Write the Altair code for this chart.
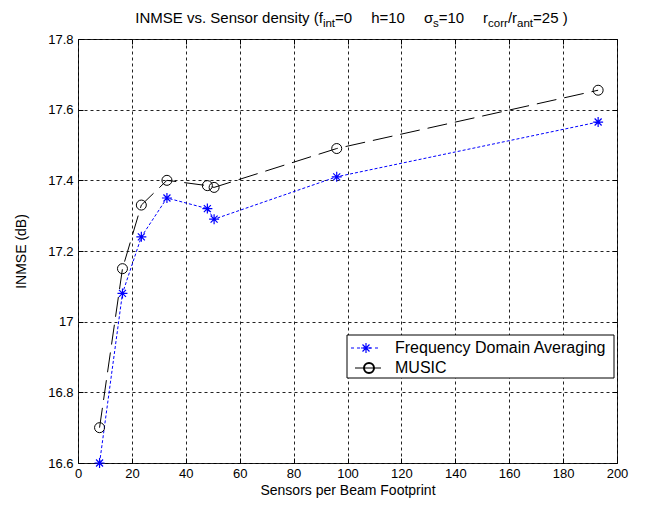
import altair as alt
import pandas as pd

# ---------------- data ----------------
series_names = ["Frequency Domain Averaging", "MUSIC"]
sensors_fda = [8, 16.5, 23.5, 33, 48, 50.5, 96, 193]
inmse_fda = [16.60, 17.08, 17.24, 17.35, 17.32, 17.29, 17.41, 17.565]
sensors_music = [8, 16.5, 23.5, 33, 48, 50.5, 96, 193]
inmse_music = [16.70, 17.15, 17.33, 17.40, 17.385, 17.38, 17.49, 17.655]
x_ticks = [0, 20, 40, 60, 80, 100, 120, 140, 160, 180, 200]
y_ticks = [16.6, 16.8, 17.0, 17.2, 17.4, 17.6, 17.8]
x_title = "Sensors per Beam Footprint"
y_title = "INMSE (dB)"
# title pieces: (text, is_subscript)
title_parts = [("INMSE vs. Sensor density (f", False), ("int", True), ("=0", False),
               ("   ", None), ("h=10", False), ("   ", None), ("σ", False), ("s", True),
               ("=10", False), ("   ", None), ("r", False), ("corr", True), ("/r", False),
               ("ant", True), ("=25 )", False)]

W, H = 539, 424
FONT = "Liberation Sans"
BLUE = "#0000ff"

df_fda = pd.DataFrame({"sensors": sensors_fda, "inmse": inmse_fda})
df_music = pd.DataFrame({"sensors": sensors_music, "inmse": inmse_music})
one = pd.DataFrame({"a": [0]})

xscale = alt.Scale(domain=[0, 200], nice=False, zero=False)
yscale = alt.Scale(domain=[16.6, 17.8], nice=False, zero=False)

x_axis = alt.Axis(values=x_ticks, grid=True, gridDash=[3, 3], gridColor="#222222",
                  gridOpacity=1, ticks=False, tickSize=0, domain=False,
                  labelFont=FONT, labelFontSize=13, labelColor="black", labelPadding=4,
                  labelFlush=False, title=x_title, titleFont=FONT, titleFontSize=14,
                  titleFontWeight="normal", titleColor="black", titleX=W / 2, titleY=31,
                  titleBaseline="alphabetic", titleAnchor="middle")
y_axis = alt.Axis(values=y_ticks, grid=True, gridDash=[3, 3], gridColor="#222222",
                  gridOpacity=1, ticks=False, tickSize=0, domain=False, format="~g",
                  labelFont=FONT, labelFontSize=13, labelColor="black", labelPadding=5,
                  labelFlush=False, title=y_title, titleFont=FONT, titleFontSize=14,
                  titleFontWeight="normal", titleColor="black", titleX=-53, titleY=H / 2,
                  titleAngle=-90, titleBaseline="alphabetic", titleAnchor="middle")

star = "M-1,0L1,0M0,-1L0,1M-0.7,-0.7L0.7,0.7M-0.7,0.7L0.7,-0.7"

enc_fda = dict(x=alt.X("sensors:Q", scale=xscale, axis=x_axis),
               y=alt.Y("inmse:Q", scale=yscale, axis=y_axis))
enc_music = dict(x=alt.X("sensors:Q", scale=xscale, axis=x_axis),
                 y=alt.Y("inmse:Q", scale=yscale, axis=y_axis))

fda_line = alt.Chart(df_fda).mark_line(color=BLUE, strokeWidth=1, strokeDash=[3, 2]).encode(**enc_fda)
fda_pts = alt.Chart(df_fda).mark_point(shape=star, size=100, filled=False, color=BLUE,
                                       strokeWidth=1.2, opacity=1).encode(**enc_fda)
music_line = alt.Chart(df_music).mark_line(color="black", strokeWidth=1, strokeDash=[20, 8]).encode(**enc_music)
music_pts = alt.Chart(df_music).mark_point(shape="circle", size=100, filled=False, color="black",
                                           strokeWidth=1, opacity=1).encode(**enc_music)
main = alt.layer(fda_line, music_line, fda_pts, music_pts)

# inner tick marks (MATLAB style) drawn as axes pushed inside the box
def tick_axis(orient):
    return alt.Axis(orient=orient, offset=-5, ticks=True, tickSize=5, tickColor="black",
                    labels=False, domain=False, grid=False, title=None,
                    values=(x_ticks if orient in ("bottom", "top") else y_ticks))

ticks_bl = alt.Chart(df_fda).mark_point(opacity=0).encode(
    x=alt.X("sensors:Q", scale=xscale, axis=tick_axis("bottom")),
    y=alt.Y("inmse:Q", scale=yscale, axis=tick_axis("left")))
ticks_tr = alt.Chart(df_fda).mark_point(opacity=0).encode(
    x=alt.X("sensors:Q", scale=xscale, axis=tick_axis("top")),
    y=alt.Y("inmse:Q", scale=yscale, axis=tick_axis("right")))

# ---------------- title built from pieces (for subscripts) ----------------
aw = {'I': 278, 'N': 722, 'M': 833, 'S': 667, 'E': 667, ' ': 278, 'v': 500, 's': 500, '.': 278,
      'e': 556, 'n': 556, 'o': 556, 'r': 333, 'd': 556, 'i': 222, 't': 278, 'y': 500, '(': 333,
      'f': 278, '=': 584, 'h': 556, '/': 278, ')': 333, 'c': 500, 'a': 556, 'σ': 600}
for dch in "0123456789":
    aw[dch] = 556

MAIN_FS, SUB_FS, GAP = 15, 11.5, 19
def seg_w(t, fs):
    return sum(aw.get(ch, 556) for ch in t) * fs / 1000.0

total = 0
for t, sub in title_parts:
    total += GAP if sub is None else seg_w(t, SUB_FS if sub else MAIN_FS)
cx = W / 2 - total / 2 + 4
title_layers = []
for t, sub in title_parts:
    if sub is None:
        cx += GAP
        continue
    fs = SUB_FS if sub else MAIN_FS
    title_layers.append(alt.Chart(one).mark_text(
        text=t, font=FONT, fontSize=fs, color="black", align="left", baseline="alphabetic"
    ).encode(x=alt.value(cx), y=alt.value(-12 if sub else -16)))
    cx += seg_w(t, fs)

# ---------------- legend ----------------
LX0, LX1, LY0, LY1 = 269, 536, 296, 339
ROW = [309, 329]
legend_box = alt.Chart(one).mark_rect(fill="white", stroke="black", strokeWidth=1).encode(
    x=alt.value(LX0), x2=alt.value(LX1), y=alt.value(LY0), y2=alt.value(LY1))
leg_l1 = alt.Chart(one).mark_rule(color=BLUE, strokeWidth=1, strokeDash=[3, 3]).encode(
    x=alt.value(273), x2=alt.value(303), y=alt.value(ROW[0]))
leg_p1 = alt.Chart(one).mark_point(shape=star, size=100, filled=False, color=BLUE,
                                   strokeWidth=1.2, opacity=1).encode(
    x=alt.value(288), y=alt.value(ROW[0]))
leg_l2 = alt.Chart(one).mark_rule(color="black", strokeWidth=1).encode(
    x=alt.value(277), x2=alt.value(303), y=alt.value(ROW[1]))
leg_p2 = alt.Chart(one).mark_point(shape="circle", size=100, filled=False, color="black", opacity=1).encode(
    x=alt.value(291), y=alt.value(ROW[1]))
leg_t1 = alt.Chart(one).mark_text(text=series_names[0], font=FONT, fontSize=16, align="left",
                                  baseline="middle", color="black").encode(
    x=alt.value(317), y=alt.value(ROW[0]))
leg_t2 = alt.Chart(one).mark_text(text=series_names[1], font=FONT, fontSize=16, align="left",
                                  baseline="middle", color="black").encode(
    x=alt.value(317), y=alt.value(ROW[1]))

chart = alt.layer(
    main, ticks_bl, ticks_tr, legend_box, leg_l1, leg_l2, leg_p1, leg_p2, leg_t1, leg_t2,
    *title_layers
).resolve_axis(x="independent", y="independent").properties(
    width=W, height=H,
    autosize=alt.AutoSizeParams(type="none"),
    padding={"left": 70, "top": 31, "right": 20, "bottom": 44},
    background="white",
).configure_view(stroke="black", strokeWidth=1)

chart.save("out.html", embed_options={"renderer": "svg", "actions": False})
